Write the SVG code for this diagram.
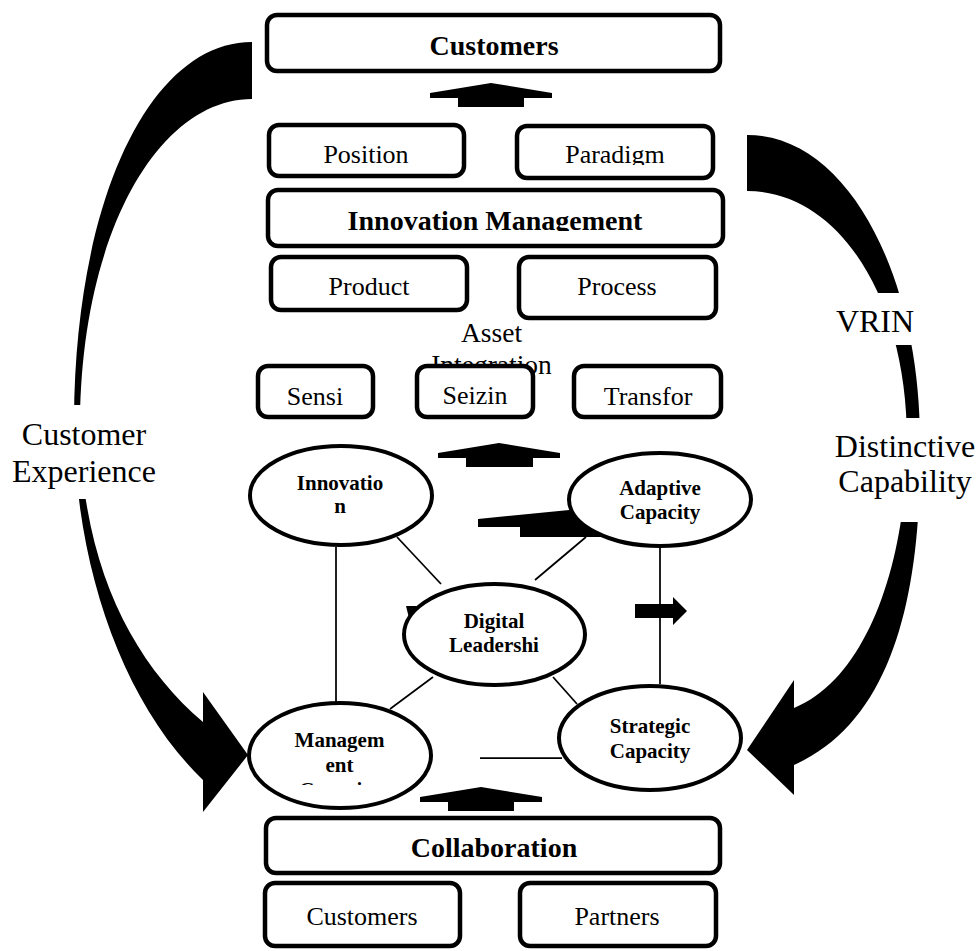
<svg xmlns="http://www.w3.org/2000/svg" width="979" height="951" viewBox="0 0 979 951">
<defs>
<style>
.box{fill:#fff;stroke:#000;stroke-width:4.5}
.ell{fill:#fff;stroke:#000;stroke-width:4}
.ln{stroke:#000;stroke-width:1.75;fill:none}
.blk{fill:#000;stroke:none}
.wh{fill:#fff;stroke:none}
.t{font-family:"Liberation Serif","Times New Roman",serif;font-size:26px;text-anchor:middle;fill:#000}
.tb{font-family:"Liberation Serif","Times New Roman",serif;font-size:28px;font-weight:bold;text-anchor:middle;fill:#000}
.te{font-family:"Liberation Serif","Times New Roman",serif;font-size:21px;font-weight:bold;text-anchor:middle;fill:#000}
.tl{font-family:"Liberation Serif","Times New Roman",serif;font-size:32px;text-anchor:middle;fill:#000}
</style>
<clipPath id="cParadigm"><rect x="517" y="126" width="196" height="39"/></clipPath>
<clipPath id="cInnov"><rect x="268" y="190" width="455" height="41"/></clipPath>
<clipPath id="cMgmt"><rect x="247" y="701" width="186" height="84"/></clipPath>
</defs>
<rect width="979" height="951" fill="#fff"/>

<g id="connectors">
  <path class="blk" d="M252,42 C150,42 75,200 74,420 C74,560 120,700 203,780 L203,812 L248,755 L203,692 L203,722 C130,660 80,560 80,420 C82,230 160,99 252,99 Z"/>
  <path class="blk" d="M747,135 C850,135 920,280 920,440 C922,590 895,720 794,765 L794,795 L747,750 L794,680 L794,708 C868,678 907,560 907,440 C907,300 840,191 747,191 Z"/>
  <path class="blk" d="M430,93 L491,83 L552,93 L552,98 L524,98 L524,107 L458,107 L458,98 L430,98 Z"/>
  <path class="blk" d="M438,453 L499,443 L560,453 L560,458 L533,458 L533,467 L466,467 L466,458 L438,458 Z"/>
  <path class="blk" d="M478,519 L620,505 L660,505 L660,537 L520,537 L520,527 L478,527 Z"/>
  <path class="blk" d="M635,604 L673,604 L673,597 L687,611 L673,625 L673,618 L635,618 Z"/>
  <path class="blk" d="M420,797 L481,787 L542,797 L542,802 L514,802 L514,811 L448,811 L448,802 L420,802 Z"/>
  <path class="blk" d="M406,606 L422,606 L422,618 L409,618 Z"/>
  <line class="ln" x1="336" y1="547" x2="336" y2="702"/>
  <line class="ln" x1="397" y1="537" x2="441" y2="584"/>
  <line class="ln" x1="586" y1="537" x2="535" y2="580"/>
  <line class="ln" x1="660" y1="548" x2="660" y2="684"/>
  <line class="ln" x1="433" y1="677" x2="390" y2="709"/>
  <line class="ln" x1="553" y1="677" x2="577" y2="704"/>
  <line class="ln" x1="480" y1="758" x2="562" y2="758"/>
</g>

<g id="label-customer-experience">
  <rect class="wh" x="0" y="405" width="170" height="94"/>
  <text class="tl" x="84" y="445">Customer</text>
  <text class="tl" x="84" y="482">Experience</text>
</g>
<g id="label-vrin">
  <rect class="wh" x="830" y="293" width="100" height="52"/>
  <text class="tl" x="875" y="332">VRIN</text>
</g>
<g id="label-distinctive-capability">
  <rect class="wh" x="828" y="418" width="151" height="104"/>
  <text class="tl" x="905" y="457">Distinctive</text>
  <text class="tl" x="905" y="492">Capability</text>
</g>

<g id="customers-top">
  <rect class="box" x="267" y="15" width="453" height="56" rx="10"/>
  <text class="tb" x="494" y="55">Customers</text>
</g>
<g id="position">
  <rect class="box" x="269" y="125" width="195" height="51" rx="10"/>
  <text class="t" x="366" y="163">Position</text>
</g>
<g id="paradigm">
  <rect class="box" x="517" y="126" width="196" height="52" rx="10"/>
  <text class="t" x="615" y="163" clip-path="url(#cParadigm)">Paradigm</text>
</g>
<g id="innovation-management">
  <rect class="box" x="268" y="190" width="455" height="56" rx="10"/>
  <text class="tb" x="495" y="230" clip-path="url(#cInnov)">Innovation Management</text>
</g>
<g id="product">
  <rect class="box" x="271" y="257" width="196" height="53" rx="10"/>
  <text class="t" x="369" y="295">Product</text>
</g>
<g id="process">
  <rect class="box" x="519" y="257" width="197" height="61" rx="10"/>
  <text class="t" x="617" y="295">Process</text>
</g>
<g id="asset-integration">
  <text class="t" style="font-size:27.5px" x="491.5" y="342">Asset</text>
  <text class="t" style="font-size:27.5px" x="491.5" y="374">Integration</text>
</g>
<g id="sensi">
  <rect class="box" x="258" y="366" width="115" height="51" rx="10"/>
  <text class="t" x="315" y="405">Sensi</text>
</g>
<g id="seizin">
  <rect class="box" x="417" y="366" width="116" height="51" rx="10"/>
  <text class="t" x="475" y="404">Seizin</text>
</g>
<g id="transfor">
  <rect class="box" x="574" y="366" width="147" height="51" rx="10"/>
  <text class="t" x="648" y="405">Transfor</text>
</g>

<g id="innovation">
  <ellipse class="ell" cx="341" cy="495.5" rx="91" ry="49.5"/>
  <text class="te" x="340" y="490">Innovatio</text>
  <text class="te" x="340" y="513">n</text>
</g>
<g id="adaptive-capacity">
  <ellipse class="ell" cx="660" cy="499.5" rx="91" ry="46.5"/>
  <text class="te" x="660" y="495">Adaptive</text>
  <text class="te" x="660" y="519">Capacity</text>
</g>
<g id="digital-leadership">
  <ellipse class="ell" cx="494.5" cy="634.5" rx="90.5" ry="50.5"/>
  <text class="te" x="494" y="628">Digital</text>
  <text class="te" x="494" y="652">Leadershi</text>
</g>
<g id="management-capacity">
  <ellipse class="ell" cx="340" cy="755.5" rx="91" ry="52.5"/>
  <g clip-path="url(#cMgmt)">
    <text class="te" x="339.5" y="747">Managem</text>
    <text class="te" x="339.5" y="772">ent</text>
    <text class="te" x="339.5" y="797">Capacity</text>
  </g>
</g>
<g id="strategic-capacity">
  <ellipse class="ell" cx="650" cy="738" rx="91" ry="52"/>
  <text class="te" x="650" y="733">Strategic</text>
  <text class="te" x="650" y="758">Capacity</text>
</g>

<g id="collaboration">
  <rect class="box" x="266" y="818" width="454" height="55" rx="10"/>
  <text class="tb" x="494" y="857">Collaboration</text>
</g>
<g id="customers-bottom">
  <rect class="box" x="265" y="883" width="195" height="63" rx="10"/>
  <text class="t" x="362" y="925">Customers</text>
</g>
<g id="partners">
  <rect class="box" x="520" y="883" width="196" height="63" rx="10"/>
  <text class="t" x="617" y="925">Partners</text>
</g>
</svg>
